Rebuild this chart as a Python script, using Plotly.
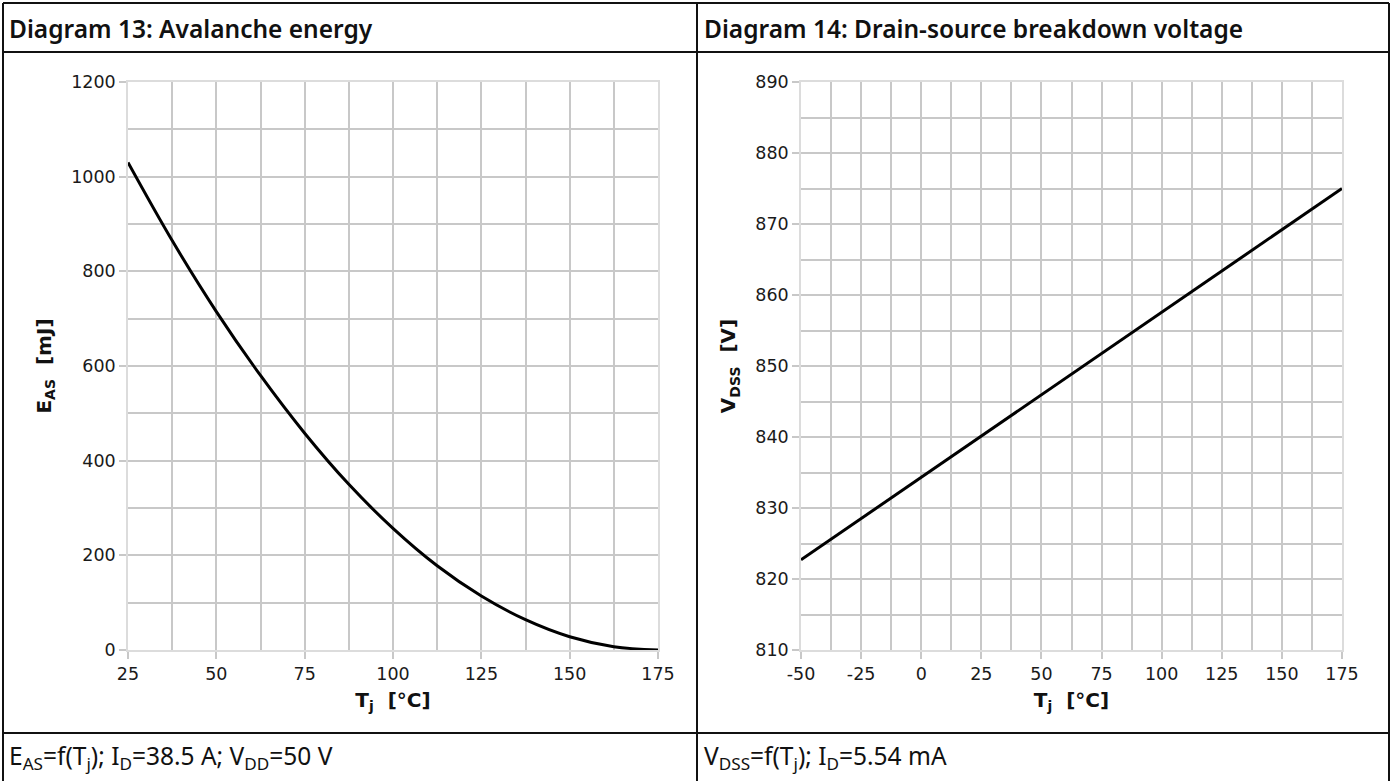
import plotly.graph_objects as go

# Diagram 13: avalanche energy vs junction temperature
tj_eas = [25, 37.5, 50, 62.5, 75, 87.5, 100, 112.5, 125, 137.5, 150, 162.5, 175]
eas_mj = [1030, 865, 715, 580, 458, 350, 257, 178, 114, 64, 28, 7, 0]

# Diagram 14: drain-source breakdown voltage vs junction temperature
tj_vdss = [-50, 0, 50, 100, 175]
vdss_v = [822.7, 834.3, 846.0, 857.6, 875.0]

# x ticks of diagram 14 use a plain hyphen for negatives
tj_vdss_ticks = [-50, -25, 0, 25, 50, 75, 100, 125, 150, 175]
tj_vdss_ticklabels = ["-50", "-25", "0", "25", "50", "75", "100", "125", "150", "175"]

W, H = 1395, 781
GRID = "#c8c8c8"
TICK_FONT = dict(family="DejaVu Sans", size=17.5, color="#1a1a1a")
TITLE_FONT = dict(family="DejaVu Sans", size=20, color="#111111")
TEXT_FONT = "Noto Sans"


def px(x):
    return x / W


def py(y):
    return 1 - y / H


def axis_style(rng, dtick, minor_dtick, tick0):
    return dict(
        range=rng, tick0=tick0, dtick=dtick,
        showgrid=True, gridcolor=GRID, gridwidth=1.5,
        minor=dict(dtick=minor_dtick, tick0=tick0, showgrid=True, gridcolor=GRID, gridwidth=1.5),
        ticks="outside", ticklen=7, tickcolor=GRID, tickwidth=1.5,
        showline=True, linecolor="#dcdcdc", linewidth=1.5, mirror=True,
        zeroline=False, tickfont=TICK_FONT, fixedrange=True, automargin=False,
    )


fig = go.Figure()
fig.add_trace(go.Scatter(x=tj_eas, y=eas_mj, mode="lines", line=dict(color="black", width=3, shape="spline"),
                         xaxis="x", yaxis="y", showlegend=False))
fig.add_trace(go.Scatter(x=tj_vdss, y=vdss_v, mode="lines", line=dict(color="black", width=3),
                         xaxis="x2", yaxis="y2", showlegend=False))

x2_style = axis_style([-50, 175], 25, 12.5, -50)
x2_style.update(tickmode="array", tickvals=tj_vdss_ticks, ticktext=tj_vdss_ticklabels)

fig.update_layout(
    width=W, height=H,
    margin=dict(l=0, r=0, t=0, b=0, autoexpand=False),
    paper_bgcolor="white", plot_bgcolor="white",
    xaxis=dict(domain=[px(128), px(658)], anchor="y",
               title=dict(text="<b>T<sub>j</sub>  [°C]</b>", font=TITLE_FONT, standoff=10),
               **axis_style([25, 175], 25, 12.5, 25)),
    yaxis=dict(domain=[py(650), py(82)], anchor="x",
               title=dict(text="<b>E<sub>AS</sub>  [mJ]</b>", font=TITLE_FONT, standoff=14),
               **axis_style([0, 1200], 200, 100, 0)),
    xaxis2=dict(domain=[px(801), px(1342)], anchor="y2",
                title=dict(text="<b>T<sub>j</sub>  [°C]</b>", font=TITLE_FONT, standoff=10),
                **x2_style),
    yaxis2=dict(domain=[py(650), py(82)], anchor="x2",
                title=dict(text="<b>V<sub>DSS</sub>  [V]</b>", font=TITLE_FONT, standoff=14),
                **axis_style([810, 890], 10, 5, 810)),
)

# table frame around both diagrams
border = dict(color="#111111", width=2)
for x0, y0, x1, y1 in [
    (3, 3, 1389, 3),        # top
    (3, 3, 3, 781),         # left
    (1389, 3, 1389, 781),   # right
    (697, 3, 697, 781),     # middle
    (3, 52, 1389, 52),      # below headers
    (3, 733, 1389, 733),    # above footers
]:
    fig.add_shape(type="line", xref="paper", yref="paper",
                  x0=px(x0), y0=py(y0), x1=px(x1), y1=py(y1), line=border)

headers = [(7, "Diagram 13: Avalanche energy"), (702, "Diagram 14: Drain-source breakdown voltage")]
for x, text in headers:
    fig.add_annotation(x=px(x), y=py(28), xref="paper", yref="paper", xanchor="left", yanchor="middle",
                       text=text, showarrow=False,
                       font=dict(family=TEXT_FONT, size=24.5, color="#111111", weight=600))

footers = [
    (7, "E<sub>AS</sub>=f(T<sub>j</sub>); I<sub>D</sub>=38.5 A; V<sub>DD</sub>=50 V"),
    (702, "V<sub>DSS</sub>=f(T<sub>j</sub>); I<sub>D</sub>=5.54 mA"),
]
for x, text in footers:
    fig.add_annotation(x=px(x), y=py(757), xref="paper", yref="paper", xanchor="left", yanchor="middle",
                       text=text, showarrow=False,
                       font=dict(family=TEXT_FONT, size=24.5, color="#111111"))

fig.write_html("out.html", config={"displayModeBar": False},
               post_script="document.body.style.margin='0px';")
